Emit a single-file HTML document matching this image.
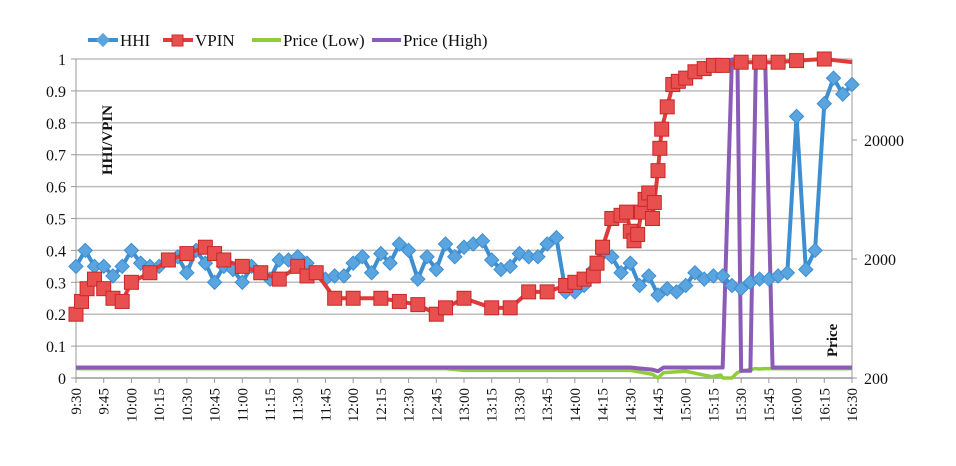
<!DOCTYPE html>
<html><head><meta charset="utf-8"><style>
body{margin:0;background:#fff;width:956px;height:461px;overflow:hidden}
svg text{font-family:"Liberation Serif",serif;fill:#111}
</style></head><body>
<svg id="chart" width="956" height="461" xmlns="http://www.w3.org/2000/svg">
<g id="grid"></g>
<g id="axes"></g>
<g id="series"></g>
<g id="legend">
 <g><line x1="88" y1="40" x2="118" y2="40" stroke="#3d8fd1" stroke-width="4"/><rect x="98" y="35" width="10" height="10" transform="rotate(45 103 40)" fill="#5aa4e0"/><text x="120" y="46" font-size="17">HHI</text></g>
 <g><line x1="163" y1="40" x2="193" y2="40" stroke="#e03a3a" stroke-width="4"/><rect x="172" y="35" width="11" height="11" fill="#e85050" stroke="#d02a2a"/><text x="195" y="46" font-size="17">VPIN</text></g>
 <g><line x1="252" y1="40" x2="281" y2="40" stroke="#8fce3a" stroke-width="4"/><text x="283" y="46" font-size="17">Price (Low)</text></g>
 <g><line x1="372" y1="40" x2="401" y2="40" stroke="#8a5cb8" stroke-width="4"/><text x="403" y="46" font-size="17">Price (High)</text></g>
</g>
<text transform="translate(112,175) rotate(-90)" font-size="15" font-weight="bold">HHI/VPIN</text>
<text transform="translate(837,357) rotate(-90)" font-size="15" font-weight="bold">Price</text>
</svg>
<script>
const xTickLabels=["9:30","9:45","10:00","10:15","10:30","10:45","11:00","11:15","11:30","11:45","12:00","12:15","12:30","12:45","13:00","13:15","13:30","13:45","14:00","14:15","14:30","14:45","15:00","15:15","15:30","15:45","16:00","16:15","16:30"];
const yTickLabels=["0","0.1","0.2","0.3","0.4","0.5","0.6","0.7","0.8","0.9","1"];
const priceTickLabels=[200,2000,20000];
// HHI every 5 minutes from 9:30
const hhiValues=[.35,.40,.35,.35,.32,.35,.40,.36,.35,.35,.37,.38,.33,.40,.36,.30,.35,.34,.30,.35,.33,.31,.37,.37,.38,.36,.33,.31,.32,.32,.36,.38,.33,.39,.36,.42,.40,.31,.38,.34,.42,.38,.41,.42,.43,.37,.34,.35,.39,.38,.38,.42,.44,.27,.27,.29,.34,.39,.38,.33,.36,.29,.32,.26,.28,.27,.29,.33,.31,.32,.32,.29,.28,.30,.31,.31,.32,.33,.82,.34,.40,.86,.94,.89,.92];
const vpinMinutes=[0,3,6,10,15,20,25,30,40,50,60,70,75,80,90,100,110,120,125,130,140,150,165,175,185,195,200,210,225,235,245,255,265,270,275,280,282,285,290,295,298,300,302,304,306,308,310,312,313,315,316,317,320,323,326,330,335,340,345,350,360,370,380,390,405,420];
const vpinValues=[.20,.24,.28,.31,.28,.25,.24,.30,.33,.37,.39,.41,.39,.37,.35,.33,.31,.35,.32,.33,.25,.25,.25,.24,.23,.20,.22,.25,.22,.22,.27,.27,.29,.30,.31,.32,.36,.41,.50,.51,.52,.46,.43,.45,.52,.56,.58,.50,.55,.65,.72,.78,.85,.92,.93,.94,.96,.97,.98,.98,.99,.99,.99,.995,1.0,.99];
const priceMinutes=[0,200,210,300,312,315,318,330,344,349,350,355,357,358,360,363,365,368,370,373,377,380,385,390,393,420];
const priceHigh=[245,245,245,245,235,228,245,245,245,245,245,95000,95000,95000,230,230,230,95000,95000,95000,245,245,245,245,245,245];
const priceLow=[240,240,232,232,215,200,222,228,205,212,200,200,215,222,228,232,236,240,238,240,240,240,240,240,240,240];

const X0=76,X1=852,Y0=378,Y1=59;
const NS="http://www.w3.org/2000/svg";
const xAt=m=>X0+(X1-X0)*m/420;
const yL=v=>Y0-(Y0-Y1)*v;
const yP=p=>Y0-(Math.log10(p)-Math.log10(200))*119;
function mk(tag,attrs,parent){const e=document.createElementNS(NS,tag);for(const k in attrs)e.setAttribute(k,attrs[k]);parent.appendChild(e);return e;}
const grid=document.getElementById('grid'),axes=document.getElementById('axes'),ser=document.getElementById('series');
yTickLabels.forEach((t,i)=>{
 const y=yL(i/10);
 if(i>0){const g=mk('line',{x1:X0,x2:X1,y1:y,y2:y,stroke:'#bdbdbd','stroke-width':1.5},grid);
 
 }
 mk('line',{x1:X0-5,x2:X0,y1:y,y2:y,stroke:'#999'},axes);
 const tx=mk('text',{x:X0-10,y:y+6,'text-anchor':'end','font-size':16},axes);tx.textContent=t;
 
 
});
mk('line',{x1:X0,x2:X0,y1:Y1,y2:Y0,stroke:'#999'},axes);
mk('line',{x1:X1,x2:X1,y1:Y1,y2:Y0,stroke:'#999'},axes);
mk('line',{x1:X0,x2:X1,y1:Y0,y2:Y0,stroke:'#999','stroke-width':1.5},axes);
xTickLabels.forEach((t,i)=>{
 const x=xAt(i*15);
 mk('line',{x1:x,x2:x,y1:Y0,y2:Y0+5,stroke:'#999'},axes);
 const tx=mk('text',{transform:`translate(${x+5},${Y0+10}) rotate(-90)`,'text-anchor':'end','font-size':15},axes);tx.textContent=t;
 
 
});
priceTickLabels.forEach(p=>{
 const y=yP(p);
 mk('line',{x1:X1,x2:X1+5,y1:y,y2:y,stroke:'#999'},axes);
 const tx=mk('text',{x:X1+12,y:y+6,'font-size':16},axes);tx.textContent=p;
 
 
});
function line(xs,ys,color,w,name){
 const p=mk('polyline',{points:xs.map((x,i)=>x+','+ys[i]).join(' '),fill:'none',stroke:color,'stroke-width':w,'stroke-linejoin':'round'},ser);
 
 
}
line(priceMinutes.map(xAt),priceLow.map(yP),'#8fce3a',3.5,'price-low-line');
line(priceMinutes.map(xAt),priceHigh.map(yP),'#8a5cb8',4,'price-high-line');
const hx=hhiValues.map((v,i)=>xAt(i*5)),hy=hhiValues.map(yL);
line(hx,hy,'#3d8fd1',4,'hhi-line');
hhiValues.forEach((v,i)=>{
 const r=mk('rect',{x:hx[i]-5,y:hy[i]-5,width:10,height:10,transform:`rotate(45 ${hx[i]} ${hy[i]})`,fill:'#5aa4e0',stroke:'#3d8fd1'},ser);
 
 
});
const vx=vpinMinutes.map(xAt),vy=vpinValues.map(yL);
line(vx,vy,'#e03a3a',4,'vpin-line');
vpinValues.forEach((v,i)=>{
 if(i===vpinValues.length-1)return;
 const r=mk('rect',{x:vx[i]-7,y:vy[i]-7,width:14,height:14,fill:'#e85050',stroke:'#c82828'},ser);
 
 
});
</script>
</body></html>
